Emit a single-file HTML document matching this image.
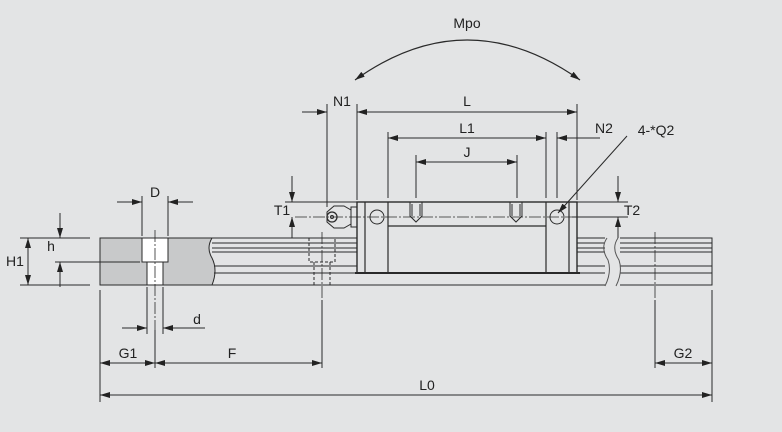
<!DOCTYPE html>
<html><head><style>
html,body{margin:0;padding:0;background:#e3e4e5;}
svg{display:block}
text{font-family:"Liberation Sans",sans-serif;font-size:14px;fill:#222;text-anchor:middle}
</style></head><body>
<svg width="782" height="432" viewBox="0 0 782 432" xmlns="http://www.w3.org/2000/svg">
<defs>
<marker id="a" viewBox="0 0 10 6" refX="10" refY="3" markerWidth="10" markerHeight="6" orient="auto-start-reverse" markerUnits="userSpaceOnUse"><path d="M0,0 L10,3 L0,6 z" fill="#222"/></marker>
</defs>
<rect width="782" height="432" fill="#e3e4e5"/>
<g stroke="#2a2a2a" stroke-width="1" fill="none">
<path d="M100,238 H212 Q206,248 212,258 Q218,270 212,285 H100 Z" fill="#c8c9ca"/>
<rect x="142" y="238" width="26" height="24" fill="#fff"/>
<rect x="147" y="262" width="16" height="23" fill="#fff"/>
<path d="M212,238 H605 M212,243 H605 M212,248 H605 M212,252 H605 M214,266 H605 M214,273 H605 M212,285 H605"/>
<path d="M620,238 H712 V285 H620 M620,243 H712 M620,248 H712 M620,252 H712 M620,266 H712 M620,273 H712"/>
<path d="M607,238 Q600,248 608,260 Q612,272 605,286 M618,238 Q611,248 619,260 Q623,272 616,286" stroke="#555"/>
<path d="M309,238 V262 H335 V238 M314,262 V285 M330,262 V285" stroke-dasharray="3,2"/>
<rect x="357" y="202" width="220" height="71" fill="#e3e4e5" stroke-width="1.4"/>
<path d="M365,202 V273 M388,202 V273 M546,202 V273 M569,202 V273 M388,226 H546" stroke-width="1.2"/>
<path d="M355,273 H580" stroke-width="2"/>
<path d="M410,202 V216 L416,222 L422,216 V202 M412,204 V216 M420,204 V216"/>
<path d="M510,202 V216 L516,222 L522,216 V202 M512,204 V216 M520,204 V216"/>
<circle cx="377" cy="217" r="7"/>
<circle cx="557" cy="217" r="7"/>
<path d="M327,212 L334,206 L344,206 L351,210 L351,224 L344,228 L334,228 L327,222 Z" fill="#e3e4e5"/>
<circle cx="332" cy="217" r="5" stroke-width="1.3"/><circle cx="332" cy="217" r="1.5"/>
<rect x="351" y="207" width="6" height="20"/>
<path d="M295,217 H620 M155,230 V330 M322,232 V300 M655,232 V300" stroke-dasharray="12,2,2,2" stroke-width="0.8"/>
<path d="M100,290 V402 M712,290 V402 M155,330 V368 M322,300 V368 M655,300 V368"/>
<path d="M327,104 V207 M357,104 V200 M577,104 V200 M388,132 V198 M546,132 V198 M557,132 V198 M416,155 V198 M517,155 V198"/>
<path d="M142,196 V236 M168,196 V236 M147,287 V334 M163,287 V334"/>
<path d="M20,238 H90 M20,285 H90 M55,262 H140 M285,202 H357 M285,238 H290 M577,202 H628 M572,217 H628"/>
<line x1="357" y1="112" x2="577" y2="112" marker-start="url(#a)" marker-end="url(#a)"/>
<path d="M302,112 H327" marker-end="url(#a)"/>
<line x1="388" y1="138" x2="546" y2="138" marker-start="url(#a)" marker-end="url(#a)"/>
<path d="M600,138 H557" marker-end="url(#a)"/>
<line x1="416" y1="162" x2="517" y2="162" marker-start="url(#a)" marker-end="url(#a)"/>
<path d="M292,176 V202" marker-end="url(#a)"/><path d="M292,238 V217" marker-end="url(#a)"/>
<path d="M618,176 V202" marker-end="url(#a)"/><path d="M618,238 V217" marker-end="url(#a)"/>
<path d="M117,202 H142" marker-end="url(#a)"/><path d="M193,202 H168" marker-end="url(#a)"/>
<line x1="28" y1="238" x2="28" y2="285" marker-start="url(#a)" marker-end="url(#a)"/>
<path d="M60,213 V238" marker-end="url(#a)"/><path d="M60,287 V262" marker-end="url(#a)"/>
<path d="M122,328 H147" marker-end="url(#a)"/><path d="M205,328 H163" marker-end="url(#a)"/>
<line x1="100" y1="363" x2="155" y2="363" marker-start="url(#a)" marker-end="url(#a)"/>
<line x1="155" y1="363" x2="322" y2="363" marker-start="url(#a)" marker-end="url(#a)"/>
<line x1="655" y1="363" x2="712" y2="363" marker-start="url(#a)" marker-end="url(#a)"/>
<line x1="100" y1="395" x2="712" y2="395" marker-start="url(#a)" marker-end="url(#a)"/>
<path d="M355,80 Q467,0 580,80" marker-start="url(#a)" marker-end="url(#a)" stroke-width="1.2"/>
<path d="M627,136 L558,213" marker-end="url(#a)"/>
</g>
<text x="467" y="28">Mpo</text>
<text x="342" y="106">N1</text>
<text x="467" y="106">L</text>
<text x="467" y="133">L1</text>
<text x="604" y="133">N2</text>
<text x="656" y="135">4-*Q2</text>
<text x="467" y="157">J</text>
<text x="282" y="215">T1</text>
<text x="632" y="215">T2</text>
<text x="155" y="197">D</text>
<text x="15" y="266">H1</text>
<text x="51" y="251">h</text>
<text x="197" y="324">d</text>
<text x="128" y="358">G1</text>
<text x="232" y="358">F</text>
<text x="683" y="358">G2</text>
<text x="427" y="390">L0</text>
</svg>
</body></html>
